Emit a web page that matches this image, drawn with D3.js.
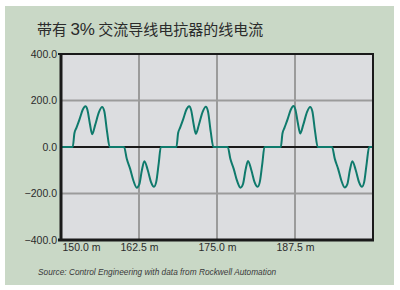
<!DOCTYPE html>
<html>
<head>
<meta charset="utf-8">
<script src="https://cdn.jsdelivr.net/npm/d3@7"></script>
<style>
  body { margin: 0; background: #fff; }
  svg text { font-family: "Liberation Sans", Arial, sans-serif; fill: #2b2b2b; }
</style>
</head>
<body>
<div id="chart"></div>
<script>
// line current, ms vs A
var timeMs = [
  150.00,
  151.88, 152.15, 152.47, 152.98, 153.48, 153.92, 154.23, 154.63, 154.99, 155.48, 156.08, 156.59, 156.93, 157.38, 157.80,
  160.11, 160.54, 161.07, 161.61, 162.14, 162.56, 162.96, 163.36, 163.91, 164.41, 164.91, 165.26, 165.66, 166.00,
  168.50, 168.77, 169.09, 169.60, 170.10, 170.54, 170.85, 171.25, 171.61, 172.10, 172.70, 173.21, 173.55, 174.00, 174.42,
  176.72, 177.15, 177.68, 178.22, 178.75, 179.17, 179.57, 179.97, 180.52, 181.02, 181.52, 181.87, 182.27, 182.61,
  185.22, 185.49, 185.81, 186.32, 186.82, 187.26, 187.57, 187.97, 188.33, 188.82, 189.42, 189.93, 190.27, 190.72, 191.14,
  193.44, 193.87, 194.40, 194.94, 195.47, 195.89, 196.29, 196.69, 197.24, 197.74, 198.24, 198.59, 198.99, 199.38,
  200.00
];
var currentA = [
  0,
  0, 59, 82, 120, 160, 175, 160, 100, 55, 95, 150, 172, 155, 66, 0,
  0, -51, -93, -145, -175, -160, -100, -61, -100, -150, -171, -150, -70, 0,
  0, 60, 83, 121, 161, 175, 159, 99, 57, 96, 151, 173, 154, 65, 0,
  0, -52, -94, -146, -175, -159, -99, -60, -101, -151, -171, -149, -69, 0,
  0, 58, 82, 120, 160, 176, 160, 101, 58, 95, 150, 172, 155, 66, 0,
  0, -50, -93, -145, -174, -160, -100, -61, -100, -150, -171, -150, -70, 0,
  0
];
var yTicks = [400, 200, 0, -200, -400];
var xTicks = [150, 162.5, 175, 187.5];
var titleParts = ["带有 ", "3%", " 交流导线电抗器的线电流"];
var sourceText = "Source: Control Engineering with data from Rockwell Automation";

var W = 400, H = 290;
var margin = { top: 54, right: 27, bottom: 50, left: 61 };
var width = W - margin.left - margin.right;
var height = H - margin.top - margin.bottom;

var svg = d3.select("#chart").append("svg")
  .attr("width", W)
  .attr("height", H);

// panel
svg.append("rect")
  .attr("x", 5).attr("y", 6)
  .attr("width", 389).attr("height", 279)
  .attr("fill", "#c9d8c6");

var title = svg.append("text")
  .attr("x", 37).attr("y", 35)
  .style("font-family", "'Noto Sans CJK SC', sans-serif")
  .style("font-size", "15px");
title.selectAll("tspan").data(titleParts)
  .enter().append("tspan")
  .style("font-family", function (d, i) { return i === 1 ? "'Liberation Sans', Arial, sans-serif" : null; })
  .style("font-size", function (d, i) { return i === 1 ? "17px" : null; })
  .text(function (d) { return d; });

var g = svg.append("g")
  .attr("transform", "translate(" + margin.left + "," + margin.top + ")");

var x = d3.scaleLinear().domain([150, 200]).range([0, width]);
var y = d3.scaleLinear().domain([-400, 400]).range([height, 0]);

g.append("rect")
  .attr("width", width).attr("height", height)
  .attr("fill", "#dcdde0");

// grid
g.append("g").selectAll("line").data(xTicks.slice(1))
  .enter().append("line")
  .attr("x1", function (d) { return x(d); })
  .attr("x2", function (d) { return x(d); })
  .attr("y1", 0).attr("y2", height)
  .attr("stroke", "#9b9b9b").attr("stroke-width", 2);
g.append("g").selectAll("line").data([200, -200])
  .enter().append("line")
  .attr("x1", 0).attr("x2", width)
  .attr("y1", function (d) { return y(d); })
  .attr("y2", function (d) { return y(d); })
  .attr("stroke", "#9b9b9b").attr("stroke-width", 2);

// zero line
g.append("line")
  .attr("x1", 0).attr("x2", width)
  .attr("y1", y(0)).attr("y2", y(0))
  .attr("stroke", "#1a1a1a").attr("stroke-width", 2);

var line = d3.line()
  .x(function (d, i) { return x(timeMs[i]); })
  .y(function (d) { return y(d); })
  .curve(d3.curveMonotoneX);

g.append("path")
  .datum(currentA)
  .attr("fill", "none")
  .attr("stroke", "#0f7a6c")
  .attr("stroke-width", 2)
  .attr("stroke-linejoin", "round")
  .attr("d", line);

// frame
g.append("rect")
  .attr("width", width).attr("height", height)
  .attr("fill", "none")
  .attr("stroke", "#1a1a1a").attr("stroke-width", 2);
g.append("line")
  .attr("x1", 0).attr("x2", 0).attr("y1", -1).attr("y2", height + 1)
  .attr("stroke", "#1a1a1a").attr("stroke-width", 3);
g.append("line")
  .attr("x1", -3).attr("x2", width + 1).attr("y1", height).attr("y2", height)
  .attr("stroke", "#1a1a1a").attr("stroke-width", 3);
g.append("line")
  .attr("x1", -3).attr("x2", 0).attr("y1", 0).attr("y2", 0)
  .attr("stroke", "#1a1a1a").attr("stroke-width", 2);

// axes (labels only)
var yAxis = g.append("g")
  .call(d3.axisLeft(y).tickValues(yTicks).tickSize(0).tickPadding(4)
    .tickFormat(d3.format(".1f")));
yAxis.select(".domain").remove();
yAxis.selectAll("text")
  .style("font-size", "10.5px")
  .style("fill", "#2b2b2b");

var xAxis = g.append("g")
  .attr("transform", "translate(0," + height + ")")
  .call(d3.axisBottom(x).tickValues(xTicks).tickSize(0).tickPadding(4)
    .tickFormat(function (d) { return d3.format(".1f")(d) + " m"; }));
xAxis.select(".domain").remove();
xAxis.selectAll("text")
  .style("font-size", "10.5px")
  .style("fill", "#2b2b2b")
  .attr("text-anchor", function (d, i) { return i === 0 ? "start" : "middle"; })
  .attr("dx", function (d, i) { return i === 0 ? 1 : 0; });

svg.append("text")
  .attr("x", 38).attr("y", 275)
  .style("font-size", "8.3px")
  .style("font-style", "italic")
  .style("fill", "#3a3a3a")
  .text(sourceText);
</script>
</body>
</html>
